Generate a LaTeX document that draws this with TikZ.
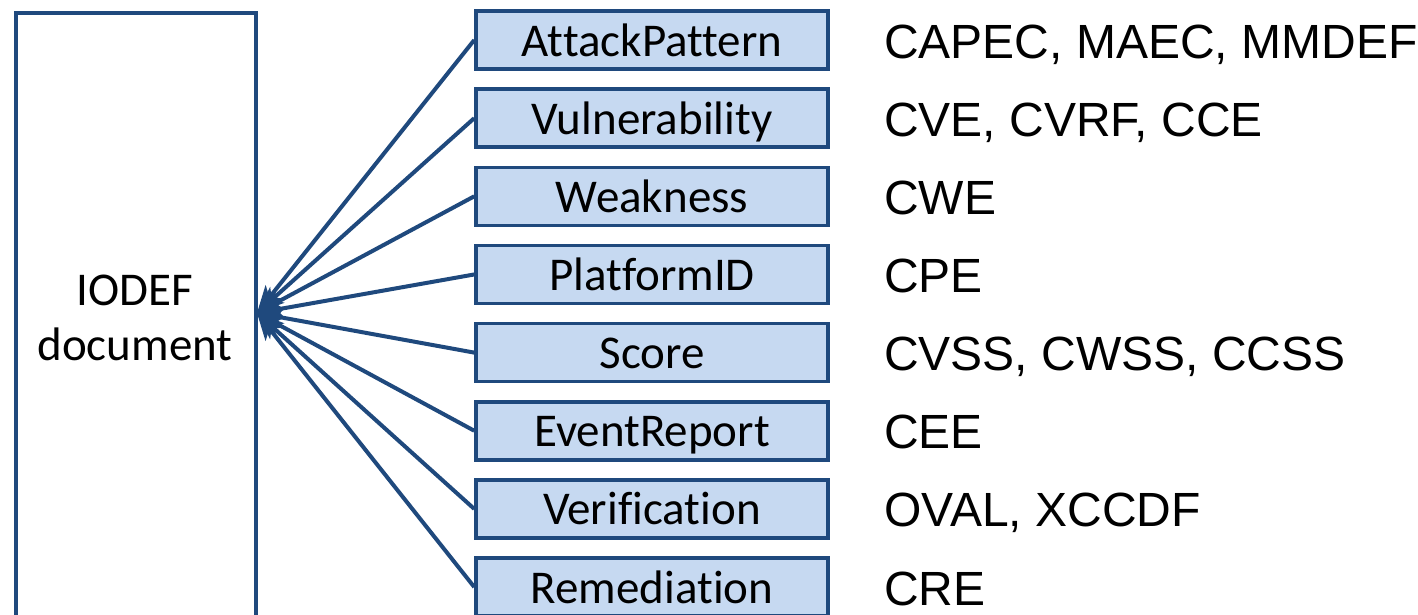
\documentclass[tikz,border=0pt]{standalone}
\usepackage{fontspec}
\setmainfont{Carlito}[Ligatures=NoCommon]
\newfontfamily\arialfont{Liberation Sans}
\usetikzlibrary{arrows.meta}
\definecolor{navy}{RGB}{31,73,125}
\definecolor{paleblue}{RGB}{198,217,241}
\tikzset{
  itembox/.style={draw=navy, fill=paleblue, line width=3.5pt, minimum width=352pt,
    minimum height=58pt, inner sep=0pt, font=\fontsize{47}{56}\selectfont,
    text height=40pt, text depth=8pt},
  stdlabel/.style={anchor=base west, inner sep=0pt, font=\arialfont\fontsize{48}{56}\selectfont},
  link/.style={draw=navy, line width=4pt, -{Stealth[length=27pt,width=21pt,inset=7pt]}}
}
\begin{document}
\begin{tikzpicture}[x=1pt,y=-1pt]
  \useasboundingbox (0,0) rectangle (1418,614);
  \clip (0,0) rectangle (1418,614);
  % container box for the document
  \node[draw=navy, line width=3.5pt, minimum width=240pt, minimum height=660pt,
        anchor=north west, inner sep=0pt] (doc) at (14,11) {};
  \node[align=center, font=\fontsize{47}{55}\selectfont] (doctext) at (135,318) {IODEF\\document};
  \coordinate (tip) at (257,313);
  % element boxes
  \foreach \name/\txt/\std [count=\i from 0] in {
      ap/AttackPattern/{CAPEC, MAEC, MMDEF},
      vu/Vulnerability/{CVE, CVRF, CCE},
      we/Weakness/CWE,
      pl/PlatformID/CPE,
      sc/Score/{CVSS, CWSS, CCSS},
      ev/EventReport/CEE,
      ve/Verification/{OVAL, XCCDF},
      re/Remediation/CRE} {
    \node[itembox] (\name) at (652, 40+78.15*\i) {\txt};
    \node[stdlabel] (\name-std) at (884, 58+78.15*\i) {\std};
    \draw[link] (\name.west) -- (tip);
  }
\end{tikzpicture}
\end{document}
